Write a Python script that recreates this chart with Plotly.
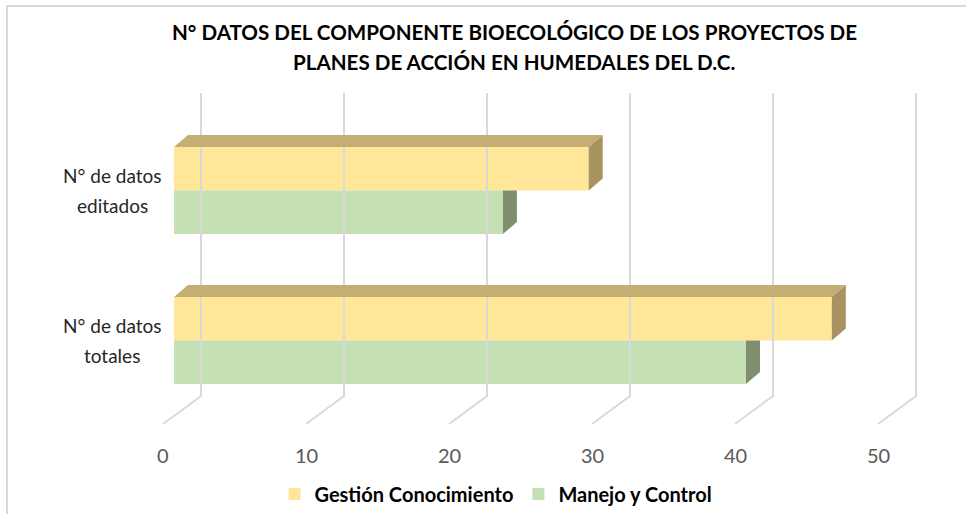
import plotly.graph_objects as go

# datos
categorias = ["N° de datos<br>totales", "N° de datos<br>editados"]
series = ["Gestión Conocimiento", "Manejo y Control"]
gestion = [46, 29]
manejo = [40, 23]
ticks_x = [0, 10, 20, 30, 40, 50]

titulo = ["N° DATOS DEL COMPONENTE BIOECOLÓGICO DE LOS PROYECTOS DE",
          "PLANES DE ACCIÓN EN HUMEDALES DEL D.C."]

# colores (cara frontal, cara superior, cara lateral)
col_gestion = ("#FFE699", "#C4AE73", "#A89260")
col_manejo = ("#C5E0B4", "#97AD89", "#7F8F6E")
col_grid = "#D9D9D9"

W, H = 966, 514
PX = 14.3               # pixeles por unidad en x
X0 = 174                # pixel del cero en la cara frontal
Y0, YS = 340.5, 150.0   # pixel de la categoria 0 y pixeles por categoria

FONT = "Lato"


def sx(p):
    return (p - X0) / PX


def sy(p):
    return (Y0 - p) / YS


# profundidad de barras y pared
BAR_DX, BAR_DY = 14 / PX, 12 / YS
BAR_H = 0.29
WALL_DX = sx(201)
WALL_BOTTOM = sy(396)
WALL_TOP = sy(93)
FRONT_DX = sx(163)
FRONT_Y = sy(424)
LABEL_Y = sy(455)

fig = go.Figure()

# rejilla: pared del fondo + piso
gx, gy = [], []
for t in ticks_x:
    gx += [t + WALL_DX, t + WALL_DX, t + FRONT_DX, None]
    gy += [WALL_TOP, WALL_BOTTOM, FRONT_Y, None]
fig.add_trace(go.Scatter(x=gx, y=gy, mode="lines", line=dict(color=col_grid, width=2),
                         hoverinfo="skip", showlegend=False))


def poligono(fig, xs, ys, color):
    fig.add_trace(go.Scatter(x=xs + [xs[0]], y=ys + [ys[0]], fill="toself", fillcolor=color,
                             mode="lines", line=dict(width=0, color=color),
                             hoverinfo="skip", showlegend=False))


for i in range(len(categorias)):
    g, m = gestion[i], manejo[i]
    # caras frontales
    fig.add_trace(go.Bar(x=[g], y=[i + BAR_H / 2], width=BAR_H, orientation="h",
                         marker=dict(color=col_gestion[0], line=dict(width=0)),
                         name=series[0], legendrank=1, showlegend=(i == 0)))
    fig.add_trace(go.Bar(x=[m], y=[i - BAR_H / 2], width=BAR_H, orientation="h",
                         marker=dict(color=col_manejo[0], line=dict(width=0)),
                         name=series[1], legendrank=2, showlegend=(i == 0)))
    # amarillo: cara superior y lateral
    yt = i + BAR_H
    poligono(fig, [0, g, g + BAR_DX, BAR_DX], [yt, yt, yt + BAR_DY, yt + BAR_DY], col_gestion[1])
    poligono(fig, [g, g, g + BAR_DX, g + BAR_DX], [i, yt, yt + BAR_DY, i + BAR_DY], col_gestion[2])
    # verde: cara lateral, tapada arriba por la barra amarilla
    yb = i - BAR_H
    poligono(fig, [m, m, m + BAR_DX, m + BAR_DX], [yb, i, i, yb + BAR_DY], col_manejo[2])

anots = []
# etiquetas de eje x
for t in ticks_x:
    anots.append(dict(x=t + FRONT_DX, y=LABEL_Y, text=str(t), showarrow=False,
                      font=dict(family=FONT, size=20, color="#595959"),
                      xanchor="center", yanchor="middle"))

# etiquetas de categoria (una anotacion por linea)
for i, c in enumerate(categorias):
    lineas = c.split("<br>")
    for k, ln in enumerate(lineas):
        anots.append(dict(x=sx(112), y=i + (0.5 - k) * 30 / YS, text=ln, showarrow=False,
                          font=dict(family=FONT, size=19, color="#262626"),
                          xanchor="center", yanchor="middle"))

# titulo en dos lineas
for k, ln in enumerate(titulo):
    anots.append(dict(x=514 / W, y=1 - (32 + 30 * k) / H, xref="paper", yref="paper",
                      text=ln, showarrow=False,
                      font=dict(family=FONT, size=20.6, color="#000000", weight="bold"),
                      xanchor="center", yanchor="middle"))

fig.update_layout(
    width=W, height=H, autosize=False,
    margin=dict(l=0, r=0, t=0, b=0),
    paper_bgcolor="white", plot_bgcolor="white",
    barmode="overlay",
    xaxis=dict(range=[sx(0), sx(W)], visible=False, fixedrange=True),
    yaxis=dict(range=[sy(H), sy(0)], visible=False, fixedrange=True),
    legend=dict(orientation="h", x=496 / W, xanchor="center",
                y=1 - 494 / H, yanchor="middle",
                font=dict(family=FONT, size=20, color="#000000", weight="bold"),
                bgcolor="rgba(0,0,0,0)", traceorder="normal"),
    annotations=anots,
    shapes=[dict(type="rect", xref="paper", yref="paper", x0=7 / W, x1=1.05,
                 y0=-0.05, y1=1 - 6 / H, line=dict(color=col_grid, width=2))],
    showlegend=True,
)

fig.write_html("out.html", config={"displayModeBar": False},
               post_script="document.body.style.margin='0px';")
